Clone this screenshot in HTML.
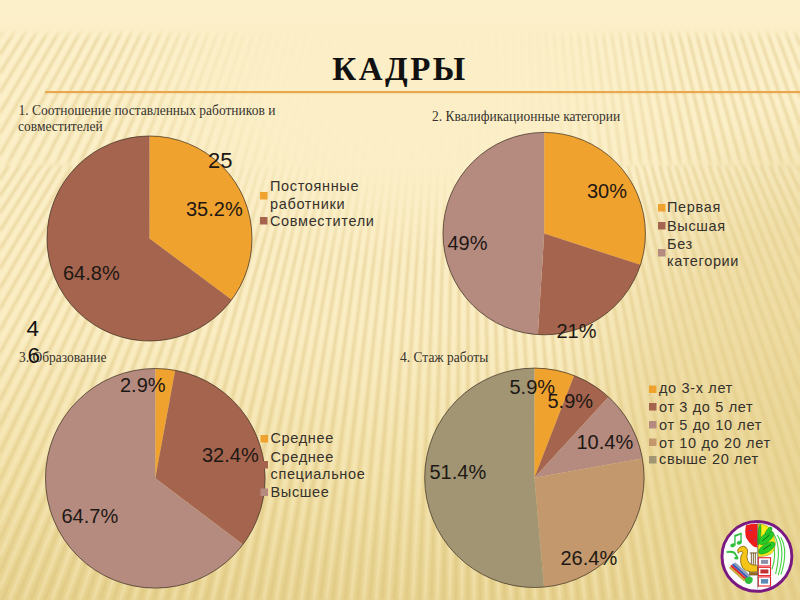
<!DOCTYPE html>
<html><head><meta charset="utf-8"><style>
html,body{margin:0;padding:0;}
body{width:800px;height:600px;overflow:hidden;position:relative;background:#FBEEC9;}
svg{position:absolute;left:0;top:0;}
.lbl{font-family:"Liberation Sans",Arial,sans-serif;fill:#1e1814;font-size:20px;}
.leg{font-family:"Liberation Sans",Arial,sans-serif;fill:#35312d;font-size:14.5px;letter-spacing:0.65px;}
.ttl{font-family:"Liberation Serif","Times New Roman",serif;fill:#36322e;font-size:13.5px;}
</style></head><body>
<svg width="800" height="600" viewBox="0 0 800 600">
<defs>
<linearGradient id="bg" x1="0" y1="0" x2="0" y2="600" gradientUnits="userSpaceOnUse">
<stop offset="0" stop-color="#FCF0CB"/>
<stop offset="0.05" stop-color="#FBEEC6"/>
<stop offset="0.55" stop-color="#F9EABD"/>
<stop offset="0.8" stop-color="#F0DEA3"/>
<stop offset="1" stop-color="#E7D28F"/>
</linearGradient>
<radialGradient id="glow" cx="400" cy="90" r="290" gradientUnits="userSpaceOnUse" gradientTransform="translate(400 90) scale(1 0.6) translate(-400 -90)">
<stop offset="0" stop-color="#FCEFC7" stop-opacity="1"/>
<stop offset="0.5" stop-color="#FCEFC7" stop-opacity="0.9"/>
<stop offset="1" stop-color="#FCEFC7" stop-opacity="0"/>
</radialGradient>
<linearGradient id="topband" x1="0" y1="0" x2="0" y2="44" gradientUnits="userSpaceOnUse">
<stop offset="0" stop-color="#FCF0CB"/>
<stop offset="0.66" stop-color="#FCEFC8"/>
<stop offset="0.76" stop-color="#FCEFC8" stop-opacity="0.5"/>
<stop offset="0.9" stop-color="#FCEFC8" stop-opacity="0"/>
</linearGradient>
<radialGradient id="rdark" cx="830" cy="400" r="300" gradientUnits="userSpaceOnUse" gradientTransform="translate(830 400) scale(0.95 1.0) translate(-830 -400)">
<stop offset="0" stop-color="#E2CB83" stop-opacity="0.6"/>
<stop offset="0.6" stop-color="#E2CB83" stop-opacity="0.42"/>
<stop offset="1" stop-color="#E2CB83" stop-opacity="0"/>
</radialGradient>
<linearGradient id="gA" x1="0" y1="0" x2="0" y2="1"><stop offset="0.9" stop-color="#fff"/><stop offset="1" stop-color="#000"/></linearGradient>
<linearGradient id="gB" x1="0" y1="0" x2="0" y2="1"><stop offset="0" stop-color="#000"/><stop offset="0.02" stop-color="#fff"/></linearGradient>
<mask id="mA" maskUnits="userSpaceOnUse" x="0" y="0" width="800" height="600"><rect x="0" y="20" width="800" height="152" fill="url(#gA)"/></mask>
<mask id="mB" maskUnits="userSpaceOnUse" x="0" y="0" width="800" height="600"><rect x="0" y="160" width="800" height="450" fill="url(#gB)"/></mask>
<filter id="blur" x="-5%" y="-5%" width="110%" height="110%"><feGaussianBlur stdDeviation="0.8"/></filter>
</defs>
<rect x="0" y="0" width="800" height="600" fill="url(#bg)"/>
<g filter="url(#blur)" stroke-width="2.0">
<g mask="url(#mA)">
<g stroke="#D4BA72" stroke-opacity="0.5">
<line x1="-0.9" y1="20" x2="-102.3" y2="172"/>
<line x1="10.6" y1="20" x2="-88.5" y2="172"/>
<line x1="21.9" y1="20" x2="-74.9" y2="172"/>
<line x1="33.0" y1="20" x2="-61.5" y2="172"/>
<line x1="44.0" y1="20" x2="-48.3" y2="172"/>
<line x1="54.9" y1="20" x2="-35.2" y2="172"/>
<line x1="65.6" y1="20" x2="-22.3" y2="172"/>
<line x1="76.2" y1="20" x2="-9.6" y2="172"/>
<line x1="86.6" y1="20" x2="3.0" y2="172"/>
<line x1="97.0" y1="20" x2="15.5" y2="172"/>
<line x1="107.2" y1="20" x2="27.8" y2="172"/>
<line x1="117.3" y1="20" x2="39.9" y2="172"/>
<line x1="127.3" y1="20" x2="52.0" y2="172"/>
<line x1="137.2" y1="20" x2="63.9" y2="172"/>
<line x1="147.0" y1="20" x2="75.7" y2="172"/>
<line x1="156.7" y1="20" x2="87.3" y2="172"/>
<line x1="166.3" y1="20" x2="98.9" y2="172"/>
<line x1="175.8" y1="20" x2="110.3" y2="172"/>
<line x1="185.2" y1="20" x2="121.7" y2="172"/>
<line x1="194.5" y1="20" x2="132.9" y2="172"/>
<line x1="203.8" y1="20" x2="144.0" y2="172"/>
<line x1="213.0" y1="20" x2="155.1" y2="172"/>
<line x1="222.1" y1="20" x2="166.0" y2="172"/>
<line x1="231.1" y1="20" x2="176.9" y2="172"/>
<line x1="240.1" y1="20" x2="187.7" y2="172"/>
<line x1="249.0" y1="20" x2="198.4" y2="172"/>
<line x1="257.8" y1="20" x2="209.0" y2="172"/>
<line x1="266.6" y1="20" x2="219.6" y2="172"/>
<line x1="275.3" y1="20" x2="230.1" y2="172"/>
<line x1="283.9" y1="20" x2="240.5" y2="172"/>
<line x1="292.5" y1="20" x2="250.9" y2="172"/>
<line x1="301.1" y1="20" x2="261.2" y2="172"/>
<line x1="309.6" y1="20" x2="271.4" y2="172"/>
<line x1="318.1" y1="20" x2="281.6" y2="172"/>
<line x1="326.5" y1="20" x2="291.8" y2="172"/>
<line x1="334.9" y1="20" x2="301.8" y2="172"/>
<line x1="343.2" y1="20" x2="311.9" y2="172"/>
<line x1="351.5" y1="20" x2="321.9" y2="172"/>
<line x1="359.8" y1="20" x2="331.8" y2="172"/>
<line x1="368.0" y1="20" x2="341.7" y2="172"/>
<line x1="376.2" y1="20" x2="351.6" y2="172"/>
<line x1="384.4" y1="20" x2="361.5" y2="172"/>
<line x1="392.6" y1="20" x2="371.3" y2="172"/>
<line x1="400.7" y1="20" x2="381.1" y2="172"/>
<line x1="408.8" y1="20" x2="390.8" y2="172"/>
<line x1="416.9" y1="20" x2="400.5" y2="172"/>
<line x1="424.9" y1="20" x2="410.3" y2="172"/>
<line x1="433.0" y1="20" x2="419.9" y2="172"/>
<line x1="441.0" y1="20" x2="429.6" y2="172"/>
<line x1="449.0" y1="20" x2="439.3" y2="172"/>
<line x1="457.1" y1="20" x2="448.9" y2="172"/>
<line x1="465.1" y1="20" x2="458.5" y2="172"/>
<line x1="473.0" y1="20" x2="468.2" y2="172"/>
<line x1="481.0" y1="20" x2="477.8" y2="172"/>
<line x1="489.0" y1="20" x2="487.4" y2="172"/>
<line x1="497.0" y1="20" x2="497.0" y2="172"/>
<line x1="505.0" y1="20" x2="506.6" y2="172"/>
<line x1="513.0" y1="20" x2="516.2" y2="172"/>
<line x1="521.0" y1="20" x2="525.8" y2="172"/>
<line x1="528.9" y1="20" x2="535.5" y2="172"/>
<line x1="536.9" y1="20" x2="545.1" y2="172"/>
<line x1="545.0" y1="20" x2="554.7" y2="172"/>
<line x1="553.0" y1="20" x2="564.4" y2="172"/>
<line x1="561.0" y1="20" x2="574.1" y2="172"/>
<line x1="569.1" y1="20" x2="583.7" y2="172"/>
<line x1="577.1" y1="20" x2="593.5" y2="172"/>
<line x1="585.2" y1="20" x2="603.2" y2="172"/>
<line x1="593.3" y1="20" x2="612.9" y2="172"/>
<line x1="601.4" y1="20" x2="622.7" y2="172"/>
<line x1="609.6" y1="20" x2="632.5" y2="172"/>
<line x1="617.8" y1="20" x2="642.4" y2="172"/>
<line x1="626.0" y1="20" x2="652.3" y2="172"/>
<line x1="634.2" y1="20" x2="662.2" y2="172"/>
<line x1="642.5" y1="20" x2="672.1" y2="172"/>
<line x1="650.8" y1="20" x2="682.1" y2="172"/>
<line x1="659.1" y1="20" x2="692.2" y2="172"/>
<line x1="667.5" y1="20" x2="702.2" y2="172"/>
<line x1="675.9" y1="20" x2="712.4" y2="172"/>
<line x1="684.4" y1="20" x2="722.6" y2="172"/>
<line x1="692.9" y1="20" x2="732.8" y2="172"/>
<line x1="701.5" y1="20" x2="743.1" y2="172"/>
<line x1="710.1" y1="20" x2="753.5" y2="172"/>
<line x1="718.7" y1="20" x2="763.9" y2="172"/>
<line x1="727.4" y1="20" x2="774.4" y2="172"/>
<line x1="736.2" y1="20" x2="785.0" y2="172"/>
<line x1="745.0" y1="20" x2="795.6" y2="172"/>
<line x1="753.9" y1="20" x2="806.3" y2="172"/>
<line x1="762.9" y1="20" x2="817.1" y2="172"/>
<line x1="771.9" y1="20" x2="828.0" y2="172"/>
<line x1="781.0" y1="20" x2="838.9" y2="172"/>
<line x1="790.2" y1="20" x2="850.0" y2="172"/>
<line x1="799.5" y1="20" x2="861.1" y2="172"/>
<line x1="808.8" y1="20" x2="872.3" y2="172"/>
</g>
<g stroke="#FFF8DA" stroke-opacity="0.45">
<line x1="-6.7" y1="20" x2="-109.3" y2="172"/>
<line x1="4.9" y1="20" x2="-95.4" y2="172"/>
<line x1="16.3" y1="20" x2="-81.7" y2="172"/>
<line x1="27.5" y1="20" x2="-68.2" y2="172"/>
<line x1="38.5" y1="20" x2="-54.9" y2="172"/>
<line x1="49.5" y1="20" x2="-41.7" y2="172"/>
<line x1="60.3" y1="20" x2="-28.7" y2="172"/>
<line x1="70.9" y1="20" x2="-15.9" y2="172"/>
<line x1="81.4" y1="20" x2="-3.2" y2="172"/>
<line x1="91.8" y1="20" x2="9.3" y2="172"/>
<line x1="102.1" y1="20" x2="21.6" y2="172"/>
<line x1="112.3" y1="20" x2="33.9" y2="172"/>
<line x1="122.3" y1="20" x2="46.0" y2="172"/>
<line x1="132.3" y1="20" x2="57.9" y2="172"/>
<line x1="142.1" y1="20" x2="69.8" y2="172"/>
<line x1="151.8" y1="20" x2="81.5" y2="172"/>
<line x1="161.5" y1="20" x2="93.1" y2="172"/>
<line x1="171.0" y1="20" x2="104.6" y2="172"/>
<line x1="180.5" y1="20" x2="116.0" y2="172"/>
<line x1="189.9" y1="20" x2="127.3" y2="172"/>
<line x1="199.2" y1="20" x2="138.5" y2="172"/>
<line x1="208.4" y1="20" x2="149.6" y2="172"/>
<line x1="217.5" y1="20" x2="160.6" y2="172"/>
<line x1="226.6" y1="20" x2="171.5" y2="172"/>
<line x1="235.6" y1="20" x2="182.3" y2="172"/>
<line x1="244.5" y1="20" x2="193.1" y2="172"/>
<line x1="253.4" y1="20" x2="203.7" y2="172"/>
<line x1="262.2" y1="20" x2="214.3" y2="172"/>
<line x1="270.9" y1="20" x2="224.9" y2="172"/>
<line x1="279.6" y1="20" x2="235.3" y2="172"/>
<line x1="288.2" y1="20" x2="245.7" y2="172"/>
<line x1="296.8" y1="20" x2="256.0" y2="172"/>
<line x1="305.4" y1="20" x2="266.3" y2="172"/>
<line x1="313.8" y1="20" x2="276.5" y2="172"/>
<line x1="322.3" y1="20" x2="286.7" y2="172"/>
<line x1="330.7" y1="20" x2="296.8" y2="172"/>
<line x1="339.0" y1="20" x2="306.9" y2="172"/>
<line x1="347.4" y1="20" x2="316.9" y2="172"/>
<line x1="355.7" y1="20" x2="326.9" y2="172"/>
<line x1="363.9" y1="20" x2="336.8" y2="172"/>
<line x1="372.1" y1="20" x2="346.7" y2="172"/>
<line x1="380.3" y1="20" x2="356.5" y2="172"/>
<line x1="388.5" y1="20" x2="366.4" y2="172"/>
<line x1="396.6" y1="20" x2="376.2" y2="172"/>
<line x1="404.7" y1="20" x2="385.9" y2="172"/>
<line x1="412.8" y1="20" x2="395.7" y2="172"/>
<line x1="420.9" y1="20" x2="405.4" y2="172"/>
<line x1="429.0" y1="20" x2="415.1" y2="172"/>
<line x1="437.0" y1="20" x2="424.8" y2="172"/>
<line x1="445.0" y1="20" x2="434.4" y2="172"/>
<line x1="453.0" y1="20" x2="444.1" y2="172"/>
<line x1="461.1" y1="20" x2="453.7" y2="172"/>
<line x1="469.0" y1="20" x2="463.4" y2="172"/>
<line x1="477.0" y1="20" x2="473.0" y2="172"/>
<line x1="485.0" y1="20" x2="482.6" y2="172"/>
<line x1="493.0" y1="20" x2="492.2" y2="172"/>
<line x1="501.0" y1="20" x2="501.8" y2="172"/>
<line x1="509.0" y1="20" x2="511.4" y2="172"/>
<line x1="517.0" y1="20" x2="521.0" y2="172"/>
<line x1="525.0" y1="20" x2="530.6" y2="172"/>
<line x1="532.9" y1="20" x2="540.3" y2="172"/>
<line x1="541.0" y1="20" x2="549.9" y2="172"/>
<line x1="549.0" y1="20" x2="559.6" y2="172"/>
<line x1="557.0" y1="20" x2="569.2" y2="172"/>
<line x1="565.0" y1="20" x2="578.9" y2="172"/>
<line x1="573.1" y1="20" x2="588.6" y2="172"/>
<line x1="581.2" y1="20" x2="598.3" y2="172"/>
<line x1="589.3" y1="20" x2="608.1" y2="172"/>
<line x1="597.4" y1="20" x2="617.8" y2="172"/>
<line x1="605.5" y1="20" x2="627.6" y2="172"/>
<line x1="613.7" y1="20" x2="637.5" y2="172"/>
<line x1="621.9" y1="20" x2="647.3" y2="172"/>
<line x1="630.1" y1="20" x2="657.2" y2="172"/>
<line x1="638.3" y1="20" x2="667.1" y2="172"/>
<line x1="646.6" y1="20" x2="677.1" y2="172"/>
<line x1="655.0" y1="20" x2="687.1" y2="172"/>
<line x1="663.3" y1="20" x2="697.2" y2="172"/>
<line x1="671.7" y1="20" x2="707.3" y2="172"/>
<line x1="680.2" y1="20" x2="717.5" y2="172"/>
<line x1="688.6" y1="20" x2="727.7" y2="172"/>
<line x1="697.2" y1="20" x2="738.0" y2="172"/>
<line x1="705.8" y1="20" x2="748.3" y2="172"/>
<line x1="714.4" y1="20" x2="758.7" y2="172"/>
<line x1="723.1" y1="20" x2="769.1" y2="172"/>
<line x1="731.8" y1="20" x2="779.7" y2="172"/>
<line x1="740.6" y1="20" x2="790.3" y2="172"/>
<line x1="749.5" y1="20" x2="800.9" y2="172"/>
<line x1="758.4" y1="20" x2="811.7" y2="172"/>
<line x1="767.4" y1="20" x2="822.5" y2="172"/>
<line x1="776.5" y1="20" x2="833.4" y2="172"/>
<line x1="785.6" y1="20" x2="844.4" y2="172"/>
<line x1="794.8" y1="20" x2="855.5" y2="172"/>
<line x1="804.1" y1="20" x2="866.7" y2="172"/>
</g>
</g>
<g mask="url(#mB)">
<g stroke="#D4BA72" stroke-opacity="0.5">
<line x1="-1.5" y1="165" x2="-316.2" y2="620"/>
<line x1="9.4" y1="165" x2="-297.9" y2="620"/>
<line x1="20.2" y1="165" x2="-279.8" y2="620"/>
<line x1="30.9" y1="165" x2="-262.1" y2="620"/>
<line x1="41.4" y1="165" x2="-244.5" y2="620"/>
<line x1="51.7" y1="165" x2="-227.3" y2="620"/>
<line x1="61.9" y1="165" x2="-210.2" y2="620"/>
<line x1="72.0" y1="165" x2="-193.4" y2="620"/>
<line x1="81.9" y1="165" x2="-176.8" y2="620"/>
<line x1="91.8" y1="165" x2="-160.4" y2="620"/>
<line x1="101.5" y1="165" x2="-144.2" y2="620"/>
<line x1="111.0" y1="165" x2="-128.2" y2="620"/>
<line x1="120.5" y1="165" x2="-112.3" y2="620"/>
<line x1="129.9" y1="165" x2="-96.7" y2="620"/>
<line x1="139.2" y1="165" x2="-81.2" y2="620"/>
<line x1="148.3" y1="165" x2="-65.9" y2="620"/>
<line x1="157.4" y1="165" x2="-50.7" y2="620"/>
<line x1="166.4" y1="165" x2="-35.7" y2="620"/>
<line x1="175.3" y1="165" x2="-20.8" y2="620"/>
<line x1="184.1" y1="165" x2="-6.1" y2="620"/>
<line x1="192.9" y1="165" x2="8.5" y2="620"/>
<line x1="201.5" y1="165" x2="22.9" y2="620"/>
<line x1="210.1" y1="165" x2="37.3" y2="620"/>
<line x1="218.6" y1="165" x2="51.5" y2="620"/>
<line x1="227.0" y1="165" x2="65.6" y2="620"/>
<line x1="235.4" y1="165" x2="79.6" y2="620"/>
<line x1="243.7" y1="165" x2="93.5" y2="620"/>
<line x1="252.0" y1="165" x2="107.2" y2="620"/>
<line x1="260.2" y1="165" x2="120.9" y2="620"/>
<line x1="268.3" y1="165" x2="134.5" y2="620"/>
<line x1="276.4" y1="165" x2="148.0" y2="620"/>
<line x1="284.5" y1="165" x2="161.5" y2="620"/>
<line x1="292.5" y1="165" x2="174.8" y2="620"/>
<line x1="300.4" y1="165" x2="188.1" y2="620"/>
<line x1="308.3" y1="165" x2="201.3" y2="620"/>
<line x1="316.2" y1="165" x2="214.4" y2="620"/>
<line x1="324.0" y1="165" x2="227.5" y2="620"/>
<line x1="331.8" y1="165" x2="240.5" y2="620"/>
<line x1="339.5" y1="165" x2="253.4" y2="620"/>
<line x1="347.2" y1="165" x2="266.3" y2="620"/>
<line x1="354.9" y1="165" x2="279.2" y2="620"/>
<line x1="362.6" y1="165" x2="292.0" y2="620"/>
<line x1="370.2" y1="165" x2="304.7" y2="620"/>
<line x1="377.8" y1="165" x2="317.4" y2="620"/>
<line x1="385.4" y1="165" x2="330.1" y2="620"/>
<line x1="393.0" y1="165" x2="342.8" y2="620"/>
<line x1="400.6" y1="165" x2="355.4" y2="620"/>
<line x1="408.1" y1="165" x2="367.9" y2="620"/>
<line x1="415.6" y1="165" x2="380.5" y2="620"/>
<line x1="423.1" y1="165" x2="393.0" y2="620"/>
<line x1="430.6" y1="165" x2="405.6" y2="620"/>
<line x1="438.1" y1="165" x2="418.1" y2="620"/>
<line x1="445.6" y1="165" x2="430.6" y2="620"/>
<line x1="453.1" y1="165" x2="443.0" y2="620"/>
<line x1="460.5" y1="165" x2="455.5" y2="620"/>
<line x1="468.0" y1="165" x2="468.0" y2="620"/>
<line x1="475.5" y1="165" x2="480.5" y2="620"/>
<line x1="482.9" y1="165" x2="493.0" y2="620"/>
<line x1="490.4" y1="165" x2="505.4" y2="620"/>
<line x1="497.9" y1="165" x2="517.9" y2="620"/>
<line x1="505.4" y1="165" x2="530.4" y2="620"/>
<line x1="512.9" y1="165" x2="543.0" y2="620"/>
<line x1="520.4" y1="165" x2="555.5" y2="620"/>
<line x1="527.9" y1="165" x2="568.1" y2="620"/>
<line x1="535.4" y1="165" x2="580.6" y2="620"/>
<line x1="543.0" y1="165" x2="593.2" y2="620"/>
<line x1="550.6" y1="165" x2="605.9" y2="620"/>
<line x1="558.2" y1="165" x2="618.6" y2="620"/>
<line x1="565.8" y1="165" x2="631.3" y2="620"/>
<line x1="573.4" y1="165" x2="644.0" y2="620"/>
<line x1="581.1" y1="165" x2="656.8" y2="620"/>
<line x1="588.8" y1="165" x2="669.7" y2="620"/>
<line x1="596.5" y1="165" x2="682.6" y2="620"/>
<line x1="604.2" y1="165" x2="695.5" y2="620"/>
<line x1="612.0" y1="165" x2="708.5" y2="620"/>
<line x1="619.8" y1="165" x2="721.6" y2="620"/>
<line x1="627.7" y1="165" x2="734.7" y2="620"/>
<line x1="635.6" y1="165" x2="747.9" y2="620"/>
<line x1="643.5" y1="165" x2="761.2" y2="620"/>
<line x1="651.5" y1="165" x2="774.5" y2="620"/>
<line x1="659.6" y1="165" x2="788.0" y2="620"/>
<line x1="667.7" y1="165" x2="801.5" y2="620"/>
<line x1="675.8" y1="165" x2="815.1" y2="620"/>
<line x1="684.0" y1="165" x2="828.8" y2="620"/>
<line x1="692.3" y1="165" x2="842.5" y2="620"/>
<line x1="700.6" y1="165" x2="856.4" y2="620"/>
<line x1="709.0" y1="165" x2="870.4" y2="620"/>
<line x1="717.4" y1="165" x2="884.5" y2="620"/>
<line x1="725.9" y1="165" x2="898.7" y2="620"/>
<line x1="734.5" y1="165" x2="913.1" y2="620"/>
<line x1="743.1" y1="165" x2="927.5" y2="620"/>
<line x1="751.9" y1="165" x2="942.1" y2="620"/>
<line x1="760.7" y1="165" x2="956.8" y2="620"/>
<line x1="769.6" y1="165" x2="971.7" y2="620"/>
<line x1="778.6" y1="165" x2="986.7" y2="620"/>
<line x1="787.7" y1="165" x2="1001.9" y2="620"/>
<line x1="796.8" y1="165" x2="1017.2" y2="620"/>
<line x1="806.1" y1="165" x2="1032.7" y2="620"/>
</g>
<g stroke="#FFF8DA" stroke-opacity="0.45">
<line x1="-7.1" y1="165" x2="-325.4" y2="620"/>
<line x1="4.0" y1="165" x2="-307.0" y2="620"/>
<line x1="14.8" y1="165" x2="-288.8" y2="620"/>
<line x1="25.6" y1="165" x2="-270.9" y2="620"/>
<line x1="36.1" y1="165" x2="-253.3" y2="620"/>
<line x1="46.5" y1="165" x2="-235.9" y2="620"/>
<line x1="56.8" y1="165" x2="-218.7" y2="620"/>
<line x1="67.0" y1="165" x2="-201.8" y2="620"/>
<line x1="77.0" y1="165" x2="-185.1" y2="620"/>
<line x1="86.9" y1="165" x2="-168.5" y2="620"/>
<line x1="96.6" y1="165" x2="-152.2" y2="620"/>
<line x1="106.3" y1="165" x2="-136.1" y2="620"/>
<line x1="115.8" y1="165" x2="-120.2" y2="620"/>
<line x1="125.2" y1="165" x2="-104.5" y2="620"/>
<line x1="134.5" y1="165" x2="-88.9" y2="620"/>
<line x1="143.8" y1="165" x2="-73.5" y2="620"/>
<line x1="152.9" y1="165" x2="-58.3" y2="620"/>
<line x1="161.9" y1="165" x2="-43.2" y2="620"/>
<line x1="170.9" y1="165" x2="-28.2" y2="620"/>
<line x1="179.7" y1="165" x2="-13.5" y2="620"/>
<line x1="188.5" y1="165" x2="1.2" y2="620"/>
<line x1="197.2" y1="165" x2="15.7" y2="620"/>
<line x1="205.8" y1="165" x2="30.1" y2="620"/>
<line x1="214.4" y1="165" x2="44.4" y2="620"/>
<line x1="222.8" y1="165" x2="58.5" y2="620"/>
<line x1="231.2" y1="165" x2="72.6" y2="620"/>
<line x1="239.6" y1="165" x2="86.5" y2="620"/>
<line x1="247.9" y1="165" x2="100.4" y2="620"/>
<line x1="256.1" y1="165" x2="114.1" y2="620"/>
<line x1="264.3" y1="165" x2="127.7" y2="620"/>
<line x1="272.4" y1="165" x2="141.3" y2="620"/>
<line x1="280.4" y1="165" x2="154.8" y2="620"/>
<line x1="288.5" y1="165" x2="168.2" y2="620"/>
<line x1="296.4" y1="165" x2="181.5" y2="620"/>
<line x1="304.4" y1="165" x2="194.7" y2="620"/>
<line x1="312.2" y1="165" x2="207.9" y2="620"/>
<line x1="320.1" y1="165" x2="221.0" y2="620"/>
<line x1="327.9" y1="165" x2="234.0" y2="620"/>
<line x1="335.7" y1="165" x2="247.0" y2="620"/>
<line x1="343.4" y1="165" x2="259.9" y2="620"/>
<line x1="351.1" y1="165" x2="272.8" y2="620"/>
<line x1="358.8" y1="165" x2="285.6" y2="620"/>
<line x1="366.4" y1="165" x2="298.4" y2="620"/>
<line x1="374.0" y1="165" x2="311.1" y2="620"/>
<line x1="381.6" y1="165" x2="323.8" y2="620"/>
<line x1="389.2" y1="165" x2="336.4" y2="620"/>
<line x1="396.8" y1="165" x2="349.1" y2="620"/>
<line x1="404.3" y1="165" x2="361.7" y2="620"/>
<line x1="411.9" y1="165" x2="374.2" y2="620"/>
<line x1="419.4" y1="165" x2="386.8" y2="620"/>
<line x1="426.9" y1="165" x2="399.3" y2="620"/>
<line x1="434.4" y1="165" x2="411.8" y2="620"/>
<line x1="441.8" y1="165" x2="424.3" y2="620"/>
<line x1="449.3" y1="165" x2="436.8" y2="620"/>
<line x1="456.8" y1="165" x2="449.3" y2="620"/>
<line x1="464.3" y1="165" x2="461.8" y2="620"/>
<line x1="471.7" y1="165" x2="474.2" y2="620"/>
<line x1="479.2" y1="165" x2="486.7" y2="620"/>
<line x1="486.7" y1="165" x2="499.2" y2="620"/>
<line x1="494.2" y1="165" x2="511.7" y2="620"/>
<line x1="501.6" y1="165" x2="524.2" y2="620"/>
<line x1="509.1" y1="165" x2="536.7" y2="620"/>
<line x1="516.6" y1="165" x2="549.2" y2="620"/>
<line x1="524.1" y1="165" x2="561.8" y2="620"/>
<line x1="531.7" y1="165" x2="574.3" y2="620"/>
<line x1="539.2" y1="165" x2="586.9" y2="620"/>
<line x1="546.8" y1="165" x2="599.6" y2="620"/>
<line x1="554.4" y1="165" x2="612.2" y2="620"/>
<line x1="562.0" y1="165" x2="624.9" y2="620"/>
<line x1="569.6" y1="165" x2="637.6" y2="620"/>
<line x1="577.2" y1="165" x2="650.4" y2="620"/>
<line x1="584.9" y1="165" x2="663.2" y2="620"/>
<line x1="592.6" y1="165" x2="676.1" y2="620"/>
<line x1="600.3" y1="165" x2="689.0" y2="620"/>
<line x1="608.1" y1="165" x2="702.0" y2="620"/>
<line x1="615.9" y1="165" x2="715.0" y2="620"/>
<line x1="623.8" y1="165" x2="728.1" y2="620"/>
<line x1="631.6" y1="165" x2="741.3" y2="620"/>
<line x1="639.6" y1="165" x2="754.5" y2="620"/>
<line x1="647.5" y1="165" x2="767.8" y2="620"/>
<line x1="655.6" y1="165" x2="781.2" y2="620"/>
<line x1="663.6" y1="165" x2="794.7" y2="620"/>
<line x1="671.7" y1="165" x2="808.3" y2="620"/>
<line x1="679.9" y1="165" x2="821.9" y2="620"/>
<line x1="688.1" y1="165" x2="835.6" y2="620"/>
<line x1="696.4" y1="165" x2="849.5" y2="620"/>
<line x1="704.8" y1="165" x2="863.4" y2="620"/>
<line x1="713.2" y1="165" x2="877.5" y2="620"/>
<line x1="721.6" y1="165" x2="891.6" y2="620"/>
<line x1="730.2" y1="165" x2="905.9" y2="620"/>
<line x1="738.8" y1="165" x2="920.3" y2="620"/>
<line x1="747.5" y1="165" x2="934.8" y2="620"/>
<line x1="756.3" y1="165" x2="949.5" y2="620"/>
<line x1="765.1" y1="165" x2="964.2" y2="620"/>
<line x1="774.1" y1="165" x2="979.2" y2="620"/>
<line x1="783.1" y1="165" x2="994.3" y2="620"/>
<line x1="792.2" y1="165" x2="1009.5" y2="620"/>
<line x1="801.5" y1="165" x2="1024.9" y2="620"/>
</g>
</g>
</g>
<rect x="0" y="0" width="800" height="600" fill="url(#rdark)"/>
<rect x="0" y="0" width="800" height="600" fill="url(#glow)"/>
<rect x="0" y="0" width="800" height="40" fill="url(#topband)"/>
<rect x="45" y="91" width="755" height="2.2" fill="#E9A84D"/>
<text x="400" y="80" text-anchor="middle" font-family="Liberation Serif, serif" font-weight="bold" font-size="33" letter-spacing="2.5" fill="#111">КАДРЫ</text>
<path d="M149.50,238.50 L149.50,136.00 A102.5,102.5 0 0 1 231.66,299.79 Z" fill="#F0A22E"/>
<path d="M149.50,238.50 L231.66,299.79 A102.5,102.5 0 1 1 149.50,136.00 Z" fill="#A5644E"/>
<circle cx="149.5" cy="238.5" r="102.5" fill="none" stroke="#3c2e22" stroke-opacity="0.8" stroke-width="0.9"/>
<path d="M544.20,233.60 L544.20,132.40 A101.2,101.2 0 0 1 640.45,264.87 Z" fill="#F0A22E"/>
<path d="M544.20,233.60 L640.45,264.87 A101.2,101.2 0 0 1 537.85,334.60 Z" fill="#A5644E"/>
<path d="M544.20,233.60 L537.85,334.60 A101.2,101.2 0 0 1 544.20,132.40 Z" fill="#B58B80"/>
<circle cx="544.2" cy="233.6" r="101.2" fill="none" stroke="#3c2e22" stroke-opacity="0.8" stroke-width="0.9"/>
<path d="M155.30,478.30 L155.30,368.50 A109.8,109.8 0 0 1 175.20,370.32 Z" fill="#F0A22E"/>
<path d="M155.30,478.30 L175.20,370.32 A109.8,109.8 0 0 1 242.90,544.50 Z" fill="#A5644E"/>
<path d="M155.30,478.30 L242.90,544.50 A109.8,109.8 0 1 1 155.30,368.50 Z" fill="#B58B80"/>
<circle cx="155.3" cy="478.3" r="109.8" fill="none" stroke="#3c2e22" stroke-opacity="0.8" stroke-width="0.9"/>
<path d="M534.40,477.80 L534.40,368.10 A109.7,109.7 0 0 1 574.14,375.55 Z" fill="#F0A22E"/>
<path d="M534.40,477.80 L574.14,375.55 A109.7,109.7 0 0 1 608.48,396.89 Z" fill="#A5644E"/>
<path d="M534.40,477.80 L608.48,396.89 A109.7,109.7 0 0 1 642.41,458.60 Z" fill="#B58B80"/>
<path d="M534.40,477.80 L642.41,458.60 A109.7,109.7 0 0 1 544.04,587.08 Z" fill="#C3986D"/>
<path d="M534.40,477.80 L544.04,587.08 A109.7,109.7 0 1 1 534.40,368.10 Z" fill="#A19574"/>
<circle cx="534.4" cy="477.8" r="109.7" fill="none" stroke="#3c2e22" stroke-opacity="0.8" stroke-width="0.9"/>
<g class="ttl">
<text transform="translate(18.5 115.3) scale(1 1.08)">1. Соотношение поставленных работников и</text>
<text transform="translate(18 131.3) scale(1 1.08)">совместителей</text>
<text transform="translate(432 120.8) scale(1 1.08)">2. Квалификационные категории</text>
<text transform="translate(19 361.8) scale(1 1.08)">3. Образование</text>
<text transform="translate(400 361.8) scale(1 1.08)">4. Стаж работы</text>
</g>
<g class="lbl">
<text x="208" y="168" font-size="22">25</text>
<text x="186" y="215.5">35.2%</text>
<text x="63" y="279.5">64.8%</text>
<text x="587" y="197.5">30%</text>
<text x="447.5" y="249.5">49%</text>
<text x="556.5" y="337.5">21%</text>
<text x="120" y="392">2.9%</text>
<text x="202" y="462">32.4%</text>
<text x="61.5" y="523">64.7%</text>
<text x="509.5" y="393.5">5.9%</text>
<text x="547.5" y="408">5.9%</text>
<text x="576.5" y="449">10.4%</text>
<text x="429.5" y="479">51.4%</text>
<text x="560.5" y="564.5">26.4%</text>
<text x="26.6" y="336.4" font-size="22.5" fill="#111">4</text>
<text x="27.6" y="362.7" font-size="22.5" fill="#111">6</text>
</g>
<g class="leg">
<rect x="260" y="192" width="7.5" height="7.5" fill="#F0A22E"/>
<rect x="260" y="217" width="7.5" height="7.5" fill="#A5644E"/>
<text x="270" y="191">Постоянные</text>
<text x="270" y="208.5">работники</text>
<text x="270" y="226">Совместители</text>
<rect x="658" y="204" width="7.5" height="7.5" fill="#F0A22E"/>
<rect x="658" y="222" width="7.5" height="7.5" fill="#A5644E"/>
<rect x="658" y="249" width="7.5" height="7.5" fill="#B58B80"/>
<text x="667" y="212.3">Первая</text>
<text x="667" y="231">Высшая</text>
<text x="667" y="249">Без</text>
<text x="667" y="265.7">категории</text>
<rect x="260.5" y="435" width="7.5" height="7.5" fill="#F0A22E"/>
<rect x="260.5" y="461" width="7.5" height="7.5" fill="#A5644E"/>
<rect x="260.5" y="488.5" width="7.5" height="7.5" fill="#B58B80"/>
<text x="270.5" y="443">Среднее</text>
<text x="270.5" y="462">Среднее</text>
<text x="270.5" y="479">специальное</text>
<text x="270.5" y="496.5">Высшее</text>
<rect x="649" y="385.5" width="7.5" height="7.5" fill="#F0A22E"/>
<rect x="649" y="403" width="7.5" height="7.5" fill="#A5644E"/>
<rect x="649" y="421" width="7.5" height="7.5" fill="#B58B80"/>
<rect x="649" y="438.5" width="7.5" height="7.5" fill="#C3986D"/>
<rect x="649" y="456" width="7.5" height="7.5" fill="#A19574"/>
<text x="659" y="393.4">до 3-х лет</text>
<text x="659" y="411.7">от 3 до 5 лет</text>
<text x="659" y="429.6">от 5 до 10 лет</text>
<text x="659" y="447.6">от 10 до 20 лет</text>
<text x="659" y="464.3">свыше 20 лет</text>
</g>
<g transform="translate(718,518) scale(0.13333)">
<circle cx="292" cy="288" r="263" fill="#fdfdfd"/>
<g fill="none" stroke="#3fd23a" stroke-width="8">
<path d="M418,120 Q480,220 432,420"/>
<path d="M445,128 Q510,235 452,428"/>
<path d="M470,145 Q530,245 472,425"/>
<path d="M405,170 Q445,265 405,385"/>
</g>
<path d="M210,55 Q250,44 296,44 L296,222 Q272,218 262,210 Q232,186 212,150 Q198,110 210,55 Z" fill="#ee1c1c"/>
<path d="M230,92 Q248,84 265,96 Q248,104 230,92 Z" fill="#8a3aa0"/>
<path d="M265,162 Q280,158 290,168 Q278,176 265,162 Z" fill="#8a3aa0"/>
<path d="M300,44 Q360,48 382,70 Q418,110 430,180 Q428,240 398,268 Q365,290 300,288 Z" fill="#f8ee1a" stroke="#8a8a20" stroke-width="4"/>
<g fill="#26cc26" stroke="#207a20" stroke-width="3">
<ellipse cx="310" cy="125" rx="11" ry="78" transform="rotate(5 310 125)"/>
<ellipse cx="362" cy="150" rx="68" ry="32" transform="rotate(-40 362 150)"/>
<ellipse cx="366" cy="225" rx="70" ry="32" transform="rotate(-32 366 225)"/>
<ellipse cx="380" cy="98" rx="36" ry="16" transform="rotate(-55 380 98)"/>
</g>
<g stroke="#0d4d0d" stroke-width="6" stroke-linecap="round">
<line x1="335" y1="170" x2="385" y2="130"/>
<line x1="340" y1="235" x2="395" y2="200"/>
</g>
<g fill="#2fbf3c">
<ellipse cx="112" cy="205" rx="20" ry="14" transform="rotate(-20 112 205)"/>
<ellipse cx="160" cy="185" rx="20" ry="14" transform="rotate(-20 160 185)"/>
<path d="M122,200 L122,128 L178,108 L178,180 L168,180 L168,126 L132,140 L132,200 Z"/>
<path d="M62,250 Q100,238 128,255 L150,290 L140,296 L118,266 Q95,256 66,262 Z"/>
<ellipse cx="138" cy="300" rx="16" ry="12"/>
</g>
<path d="M147,240 Q160,212 190,212 Q215,214 222,240 Q222,265 217,290 Q218,322 238,342 Q262,356 290,355 L298,362 L296,400 Q280,408 250,405 Q205,402 184,372 Q165,342 170,300 Q174,270 188,258 Q178,248 165,252 Q155,258 152,265 Z" fill="#f5c518" stroke="#6b4c00" stroke-width="5"/>
<g stroke="#5a3c00" stroke-width="6">
<line x1="250" y1="262" x2="250" y2="345"/>
<line x1="265" y1="262" x2="265" y2="350"/>
<line x1="280" y1="262" x2="280" y2="352"/>
<line x1="238" y1="262" x2="292" y2="262"/>
</g>
<rect x="235" y="410" width="62" height="18" fill="#9a6a28" stroke="#4a3000" stroke-width="3"/>
<g stroke-width="16" stroke-linecap="round">
<line x1="92" y1="372" x2="196" y2="466" stroke="#c9b040"/>
<line x1="102" y1="360" x2="208" y2="456" stroke="#e02626"/>
<line x1="114" y1="350" x2="222" y2="446" stroke="#3a5ab8"/>
<line x1="128" y1="342" x2="236" y2="436" stroke="#8aa0b8"/>
</g>
<path d="M200,455 Q235,432 258,448 Q268,478 240,494 Q214,500 204,480 Z" fill="#2fbf3c"/>
<g fill="#fff" stroke="#e8202a" stroke-width="8">
<rect x="302" y="298" width="92" height="62"/>
<rect x="302" y="370" width="92" height="62"/>
<rect x="302" y="442" width="92" height="68"/>
</g>
<g><rect x="322" y="314" width="54" height="30" fill="#8a90a8"/><rect x="318" y="386" width="60" height="30" fill="#c03030"/><rect x="322" y="458" width="54" height="34" fill="#5a8ab8"/></g>
<line x1="298" y1="40" x2="298" y2="528" stroke="#444" stroke-width="4"/>
<circle cx="292" cy="288" r="262" fill="none" stroke="#7a1a80" stroke-width="22"/>
</g>

</svg>
</body></html>
